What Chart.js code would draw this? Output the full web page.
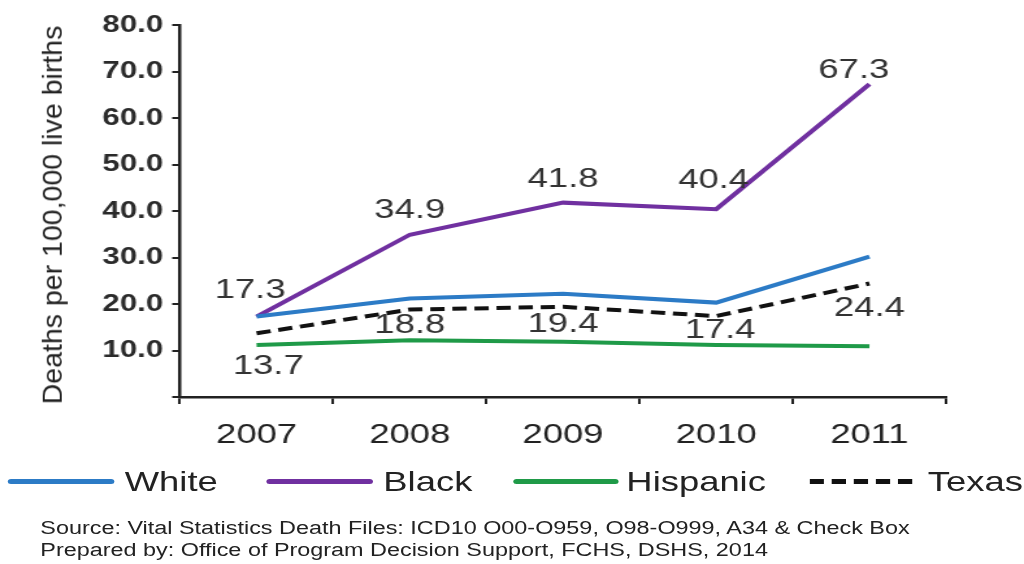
<!DOCTYPE html>
<html>
<head>
<meta charset="utf-8">
<script src="https://cdn.jsdelivr.net/npm/chart.js@4.4.0/dist/chart.umd.min.js"></script>
<style>
  html, body { margin: 0; padding: 0; background: #fff; }
  body { width: 1024px; height: 564px; position: relative; overflow: hidden; font-family: "Liberation Sans", Arial, sans-serif; color: #222; }
  /* the original picture is stretched sideways, so draw narrower and widen */
  #stage { position: absolute; left: 0; top: 0; width: 788px; height: 564px; transform: scaleX(1.2995); transform-origin: 0 0; }
  #stage canvas { position: absolute; left: 0; top: 0; }
  .lline { position: absolute; height: 5px; border-radius: 3px; top: 479px; }
  .ltxt { position: absolute; top: 466px; font-size: 28px; line-height: 32px; white-space: nowrap; }
  .src { position: absolute; left: 31px; font-size: 18px; line-height: 20px; white-space: nowrap; }
  #ytitle { position: absolute; left: 52px; top: 215px; transform: translate(-50%, -50%) rotate(-90deg); font-size: 28.5px; line-height: 1; white-space: nowrap; }
</style>
</head>
<body>
<div id="stage">
  <canvas id="chart" width="788" height="460"></canvas>

  <div class="lline" style="left:6px;width:82px;background:#2c7bc6"></div>
  <div class="ltxt" style="left:96px">White</div>
  <div class="lline" style="left:205px;width:82px;background:#7030a0"></div>
  <div class="ltxt" style="left:295px">Black</div>
  <div class="lline" style="left:395px;width:81px;background:#1f9a48"></div>
  <div class="ltxt" style="left:482px">Hispanic</div>
  <svg style="position:absolute;left:623px;top:477px" width="82" height="9"><line x1="0" y1="4.5" x2="82" y2="4.5" stroke="#111" stroke-width="5" stroke-dasharray="11 6"/></svg>
  <div class="ltxt" style="left:714px">Texas</div>

  <div class="src" style="top:518px">Source: Vital Statistics Death Files: ICD10 O00-O959, O98-O999, A34 &amp; Check Box</div>
  <div class="src" style="top:540px">Prepared by: Office of Program Decision Support, FCHS, DSHS, 2014</div>
</div>
<div id="ytitle">Deaths per 100,000 live births</div>

<script>
// ---- data ----
const years = ['2007', '2008', '2009', '2010', '2011'];
const white = [17.3, 21.2, 22.2, 20.3, 30.2];
const black = [17.3, 34.9, 41.8, 40.4, 67.3];
const hispanic = [11.2, 12.2, 11.9, 11.2, 10.9];
const texas = [13.7, 18.8, 19.4, 17.4, 24.4];
const yTicks = [0, 10, 20, 30, 40, 50, 60, 70, 80];

// value labels on Black (above) and Texas (below)
const valueLabels = {
  id: 'valueLabels',
  afterDatasetsDraw(chart, args, opts) {
    const ctx = chart.ctx;
    ctx.save();
    ctx.font = '28px "Liberation Sans", Arial, sans-serif';
    ctx.fillStyle = '#333';
    ctx.textAlign = 'center';
    ctx.textBaseline = 'middle';
    opts.sets.forEach(s => {
      const meta = chart.getDatasetMeta(s.index);
      const data = chart.data.datasets[s.index].data;
      meta.data.forEach((pt, i) => {
        ctx.fillText(data[i].toFixed(1), pt.x + s.dx[i], pt.y + s.dy[i]);
      });
    });
    ctx.restore();
  }
};

const line = (label, data, color, extra) => Object.assign({
  label, data,
  borderColor: color,
  backgroundColor: color,
  borderWidth: 4,
  pointRadius: 0,
  tension: 0,
  fill: false
}, extra || {});

new Chart(document.getElementById('chart'), {
  type: 'line',
  data: {
    labels: years,
    datasets: [
      line('Hispanic', hispanic, '#1f9a48'),
      line('White', white, '#2c7bc6'),
      line('Texas', texas, '#111', { borderDash: [11, 6] }),
      line('Black', black, '#7030a0')
    ]
  },
  options: {
    responsive: false,
    animation: false,
    layout: { padding: { left: 0, right: 60, top: 25, bottom: 0 } },
    plugins: {
      legend: { display: false },
      tooltip: { enabled: false },
      valueLabels: {
        sets: [
          { index: 3, dx: [-5, 0, 0, -2, -12], dy: [-26, -24, -23, -29, -14] },
          { index: 2, dx: [9, 0, 0, 3, 0], dy: [33, 16, 17, 14, 25] }
        ]
      }
    },
    scales: {
      x: {
        offset: true,
        grid: { display: true, drawOnChartArea: false, offset: true, color: '#222', lineWidth: 2, tickLength: 7 },
        border: { color: '#222', width: 2.5 },
        ticks: { color: '#222', font: { size: 28, family: '"Liberation Sans", Arial, sans-serif' }, padding: 14, maxRotation: 0 },
        afterFit: s => { s.height = 63; }
      },
      y: {
        min: 0, max: 80,
        afterBuildTicks: s => { s.ticks = yTicks.map(v => ({ value: v })); },
        grid: { display: true, drawOnChartArea: false, color: '#222', lineWidth: 2, tickLength: 6 },
        border: { color: '#222', width: 2.5 },
        ticks: {
          color: '#2a2a2a',
          font: { size: 24, weight: 'bold', family: '"Liberation Sans", Arial, sans-serif' },
          padding: 7,
          callback: v => v === 0 ? '' : v.toFixed(1)
        },
        afterFit: s => { s.width = 138.5; }
      }
    }
  },
  plugins: [valueLabels]
});
</script>
</body>
</html>
